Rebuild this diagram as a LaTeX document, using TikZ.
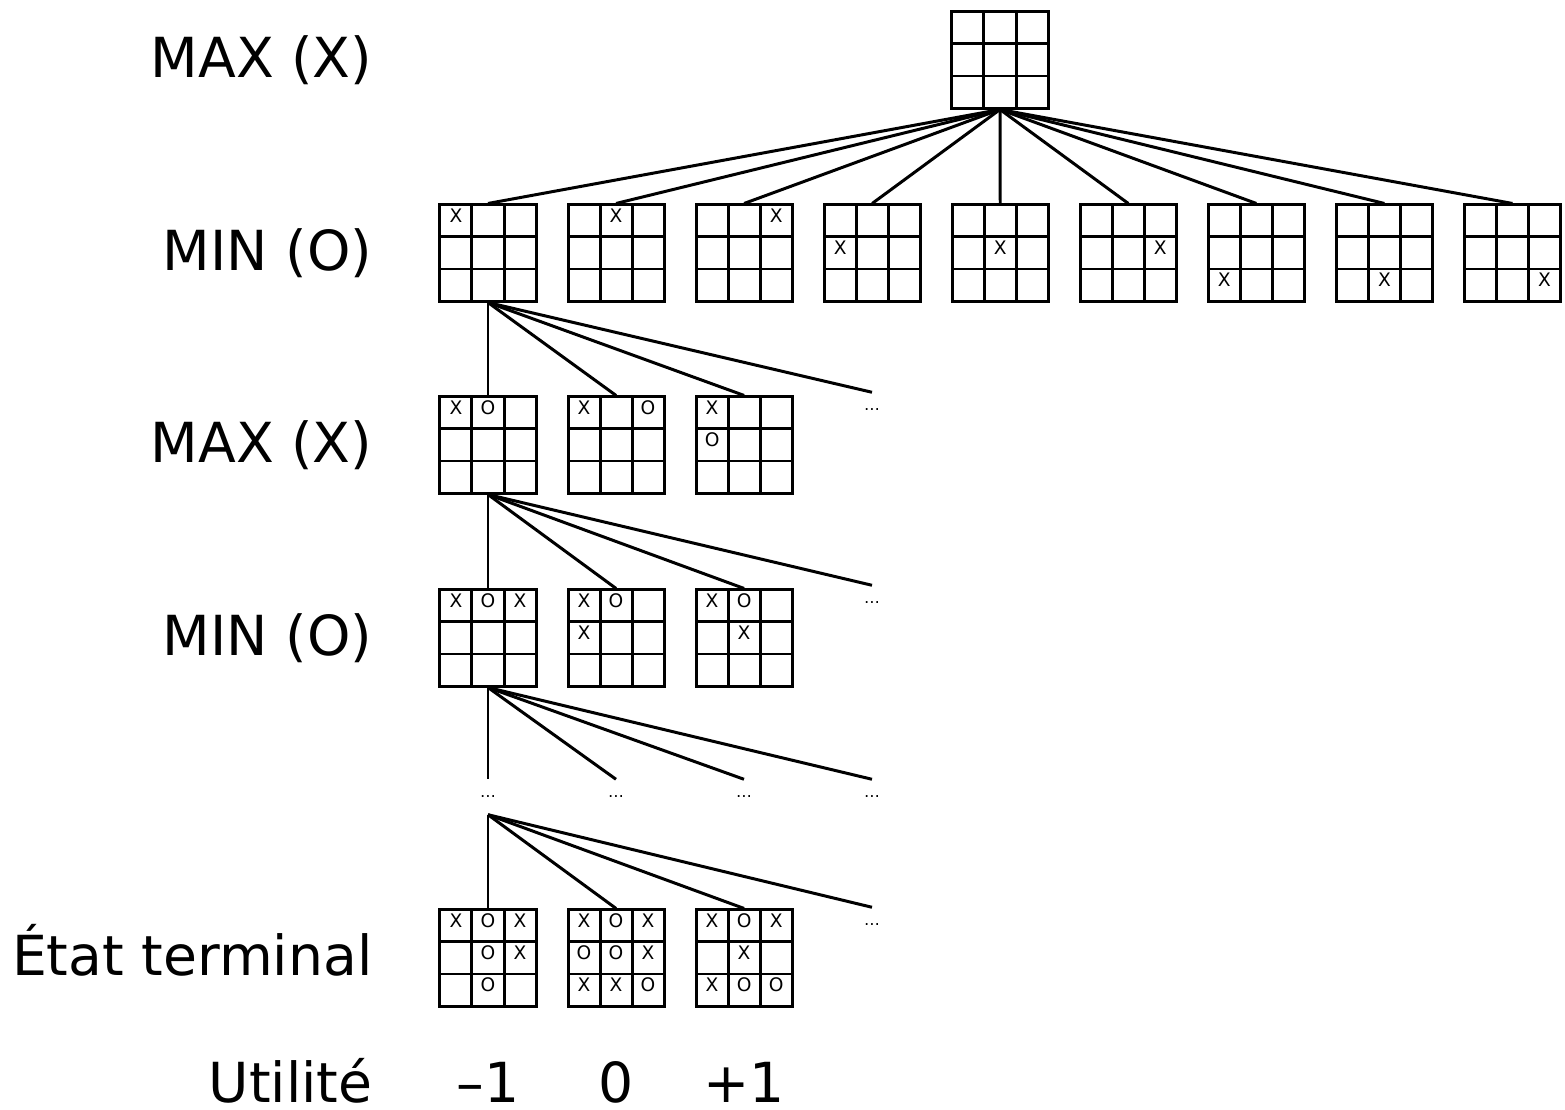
\documentclass[tikz,border=0pt]{standalone}
\usepackage{fontspec}
\setmainfont{DejaVu Sans}
\usetikzlibrary{matrix,positioning}
\newcommand{\widthcell}{0.32cm}
\newcommand{\widthline}{0.85pt}
\newcommand{\gapboard}{0.29cm}
\newcommand{\markfont}{\fontsize{5.3}{6}\selectfont}
\newcommand{\levelfont}{\fontsize{15.7}{19}\selectfont}
\tikzset{
    cell/.style={draw, rectangle, line width=\widthline, minimum size=\widthcell, inner sep=0pt, outer sep=0pt,
        font=\markfont, text height=0.135cm, text depth=0.1cm},
    board/.style={matrix of nodes, nodes in empty cells, inner sep=0pt, outer sep=0pt,
        column sep=-\widthline, row sep=-\widthline, nodes={cell}},
    dots/.style={inner sep=0pt, minimum height=0.34cm, font=\fontsize{4.5}{5}\selectfont},
    level/.style={anchor=base east, inner sep=0pt, font=\levelfont},
    value/.style={anchor=base, inner sep=0pt, font=\levelfont},
    move/.style={line width=\widthline}
}

\begin{document}
\begin{tikzpicture}[x=0.01cm, y=-0.01cm]
    \useasboundingbox (0,0) rectangle (1565,1110);

    % empty board, X to play
    \matrix[board] (root) at (1000,60) {
         & & \\
         & & \\
         & & \\
    };

    % the nine first moves of X
    \matrix[board] (one1) at (488,253) {
        X & & \\
         & & \\
         & & \\
    };
    \matrix[board, right=\gapboard of one1] (one2) {
         & X & \\
         & & \\
         & & \\
    };
    \matrix[board, right=\gapboard of one2] (one3) {
         & & X \\
         & & \\
         & & \\
    };
    \matrix[board, right=\gapboard of one3] (one4) {
         & & \\
        X & & \\
         & & \\
    };
    \matrix[board, right=\gapboard of one4] (one5) {
         & & \\
         & X & \\
         & & \\
    };
    \matrix[board, right=\gapboard of one5] (one6) {
         & & \\
         & & X \\
         & & \\
    };
    \matrix[board, right=\gapboard of one6] (one7) {
         & & \\
         & & \\
        X & & \\
    };
    \matrix[board, right=\gapboard of one7] (one8) {
         & & \\
         & & \\
         & X & \\
    };
    \matrix[board, right=\gapboard of one8] (one9) {
         & & \\
         & & \\
         & & X \\
    };

    % answers of O
    \matrix[board] (two1) at (488,445) {
        X & O & \\
         & & \\
         & & \\
    };
    \matrix[board, right=\gapboard of two1] (two2) {
        X & & O \\
         & & \\
         & & \\
    };
    \matrix[board, right=\gapboard of two2] (two3) {
        X & & \\
        O & & \\
         & & \\
    };
    \node[dots] (dotstwo) at (872,410) {…};

    % second move of X
    \matrix[board] (three1) at (488,638) {
        X & O & X \\
         & & \\
         & & \\
    };
    \matrix[board, right=\gapboard of three1] (three2) {
        X & O & \\
        X & & \\
         & & \\
    };
    \matrix[board, right=\gapboard of three2] (three3) {
        X & O & \\
         & X & \\
         & & \\
    };
    \node[dots] (dotsthree) at (872,603) {…};

    % skipped levels
    \node[dots] (gap1) at (488,797) {…};
    \node[dots] (gap2) at (616,797) {…};
    \node[dots] (gap3) at (744,797) {…};
    \node[dots] (gap4) at (872,797) {…};

    % final positions
    \matrix[board] (end1) at (488,958) {
        X & O & X \\
         & O & X \\
         & O & \\
    };
    \matrix[board, right=\gapboard of end1] (end2) {
        X & O & X \\
        O & O & X \\
        X & X & O \\
    };
    \matrix[board, right=\gapboard of end2] (end3) {
        X & O & X \\
         & X & \\
        X & O & O \\
    };
    \node[dots] (dotsend) at (872,925) {…};

    % moves
    \foreach \i in {1,...,9}
        \draw[move] (root.south) -- (one\i.north);
    \foreach \n in {two1,two2,two3,dotstwo}
        \draw[move] (one1.south) -- (\n.north);
    \foreach \n in {three1,three2,three3,dotsthree}
        \draw[move] (two1.south) -- (\n.north);
    \foreach \n in {gap1,gap2,gap3,gap4}
        \draw[move] (three1.south) -- (\n.north);
    \foreach \n in {end1,end2,end3,dotsend}
        \draw[move] (gap1.south) -- (\n.north);

    % level names
    \node[level] (lmax1) at (373,78) {MAX (X)};
    \node[level] (lmin1) at (373,271) {MIN (O)};
    \node[level] (lmax2) at (373,463) {MAX (X)};
    \node[level] (lmin2) at (373,656) {MIN (O)};
    \node[level] (lend) at (373,976) {État terminal};
    \node[level] (lutil) at (373,1103) {Utilité};

    % utilities
    \node[value] (u1) at (end1 |- lutil.base) {–1};
    \node[value] (u2) at (end2 |- lutil.base) {0};
    \node[value] (u3) at (end3 |- lutil.base) {+1};
\end{tikzpicture}
\end{document}
